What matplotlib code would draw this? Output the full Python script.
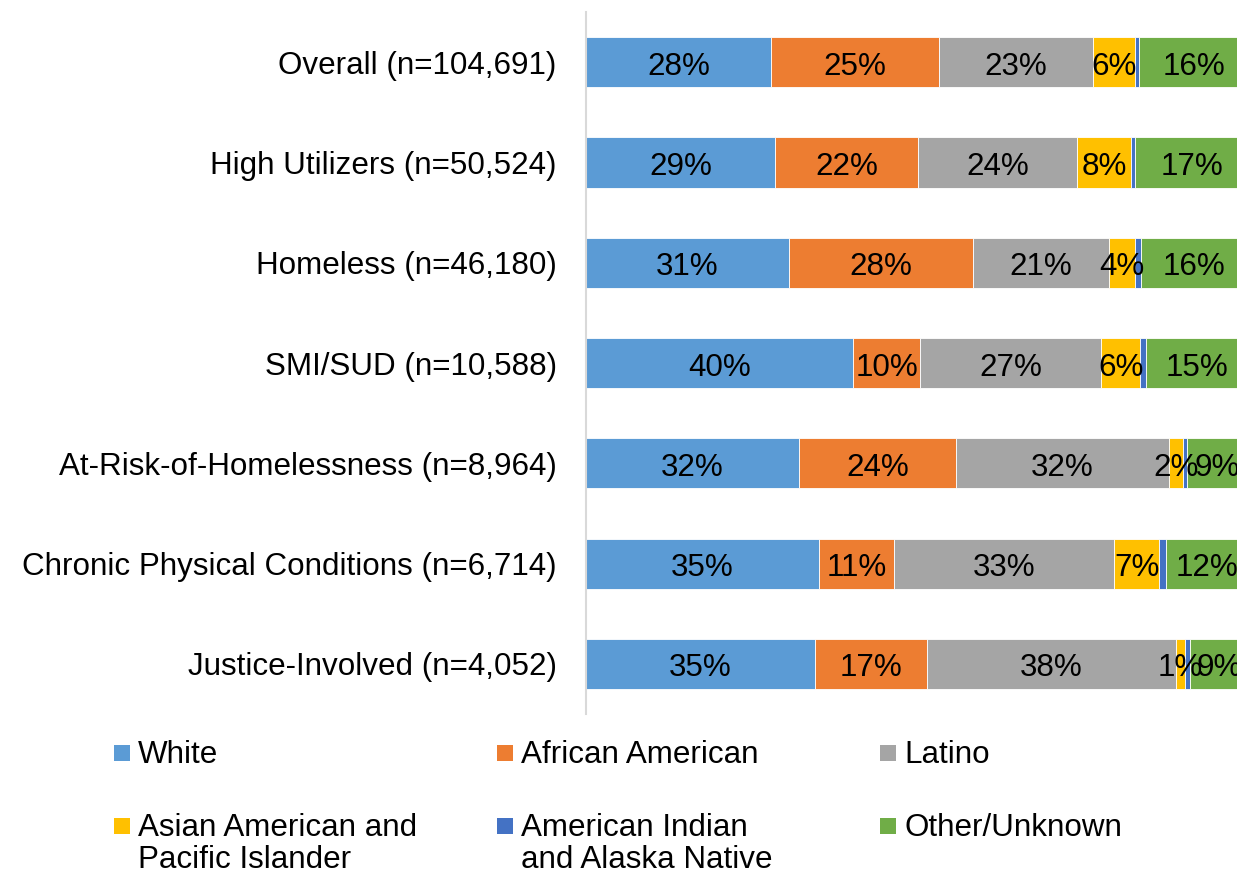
import matplotlib.pyplot as plt
import matplotlib.patches as mpatches
import numpy as np

plt.rcParams["font.family"] = ["Liberation Sans", "DejaVu Sans"]

categories = [
    "Overall (n=104,691)",
    "High Utilizers (n=50,524)",
    "Homeless (n=46,180)",
    "SMI/SUD (n=10,588)",
    "At-Risk-of-Homelessness (n=8,964)",
    "Chronic Physical Conditions (n=6,714)",
    "Justice-Involved (n=4,052)",
]
series_names = [
    "White",
    "African American",
    "Latino",
    "Asian American and\nPacific Islander",
    "American Indian\nand Alaska Native",
    "Other/Unknown",
]
colors = ["#5B9BD5", "#ED7D31", "#A5A5A5", "#FFC000", "#4472C4", "#70AD47"]

# percent shares, one list per group
white = [28.0, 28.6, 30.6, 40.4, 32.2, 35.2, 34.6]
african_american = [25.3, 21.6, 27.8, 10.1, 23.7, 11.3, 16.9]
latino = [23.3, 23.9, 20.6, 27.3, 32.2, 33.3, 37.6]
asian_pi = [6.4, 8.3, 3.9, 5.9, 2.1, 6.8, 1.4]
aian = [0.6, 0.6, 0.9, 0.9, 0.6, 1.0, 0.8]
other = [16.4, 17.0, 16.2, 15.4, 9.2, 12.4, 8.7]

series = [white, african_american, latino, asian_pi, aian, other]
show_label = [True, True, True, True, False, True]

W, H = 1237, 874
fig = plt.figure(figsize=(W / 100, H / 100), dpi=100)
ax = fig.add_axes([586 / W, (H - 714) / H, 662 / W, 702 / H])

y = np.arange(len(categories))
left = np.zeros(len(categories))
for vals, col, lab in zip(series, colors, show_label):
    vals = np.array(vals)
    ax.barh(y, vals, left=left, height=0.5, color=col, edgecolor="white", linewidth=0.6)
    if lab:
        for yi, l, v in zip(y, left, vals):
            ax.text(l + v / 2, yi + 0.125, f"{v:.0f}%", ha="center", va="baseline",
                    fontsize=22.6, color="black")
    left += vals

ax.set_xlim(0, 100)
ax.set_ylim(6.5, -0.5)
ax.set_yticks(y)
ax.set_yticklabels(categories, fontsize=22.6)
ax.tick_params(axis="y", length=0, pad=21)
ax.set_xticks([])
for s in ["top", "right", "bottom"]:
    ax.spines[s].set_visible(False)
ax.spines["left"].set_color("#D9D9D9")
ax.spines["left"].set_linewidth(1.5)

# legend laid out like the original, row by row
text_x = [138, 521, 904]
row_top = [740, 813]
for i, (name, col) in enumerate(zip(series_names, colors)):
    r, c = divmod(i, 3)
    fig.text(text_x[c] / W, 1 - row_top[r] / H, name, ha="left", va="top",
             fontsize=22.6, linespacing=1.1)
    cy = row_top[r] + 13
    fig.patches.append(mpatches.Rectangle(((text_x[c] - 24) / W, 1 - (cy + 8) / H),
                                          16 / W, 16 / H, transform=fig.transFigure,
                                          facecolor=col, edgecolor="none"))

fig.savefig("out.png", dpi=100)
